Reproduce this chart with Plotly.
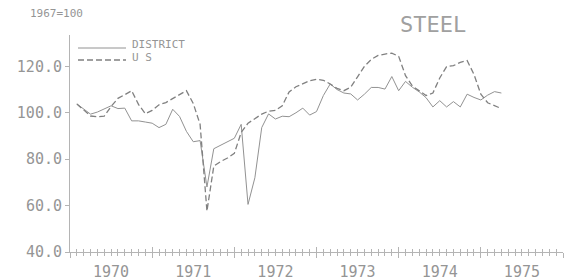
import plotly.graph_objects as go

# Monthly index values, Feb 1970 .. Apr 1975 (1967=100)
start_year = 1970
start_month = 2
district = [103.8, 101.5, 99.4, 100.3, 101.8, 103.0, 101.8, 102.0, 96.5, 96.5,
            96.0, 95.5, 93.6, 95.0, 101.5, 98.4, 92.0, 87.5, 88.0, 68.0,
            84.5, 86.0, 87.5, 89.0, 95.0, 60.5, 72.0, 93.6, 99.5, 97.3,
            98.5, 98.3, 100.0, 102.0, 99.0, 100.5, 107.4, 112.4, 110.0, 108.5,
            108.1, 105.5, 108.0, 110.9, 110.9, 110.2, 115.6, 109.5, 113.5, 111.0,
            109.0, 106.5, 102.5, 105.2, 102.5, 104.8, 102.5, 108.0, 106.6, 105.5,
            107.6, 109.1, 108.5]
us = [103.8, 101.0, 98.6, 98.3, 98.5, 102.7, 106.2, 107.8, 109.5, 103.6,
      99.6, 101.0, 103.4, 104.4, 106.0, 107.8, 109.5, 104.0, 95.0, 57.6,
      77.0, 79.0, 80.5, 82.5, 91.5, 95.5, 97.5, 99.4, 100.7, 101.0,
      103.0, 109.0, 111.2, 112.5, 113.8, 114.4, 114.0, 112.4, 110.5, 109.5,
      111.0, 115.5, 120.0, 123.0, 124.7, 125.3, 125.7, 124.3, 116.0, 111.5,
      109.6, 107.4, 108.5, 115.0, 119.9, 120.3, 121.7, 122.5, 116.5, 108.0,
      104.3, 103.0, 101.8]
year_labels = ["1970", "1971", "1972", "1973", "1974", "1975"]
year_bounds = [1970, 1971, 1972, 1973, 1974, 1975, 1976]
y_ticks = [40, 60, 80, 100, 120]

t = [start_year + (start_month - 1 + i) / 12 for i in range(len(district))]

GRAY = "#959595"
AX = "#b4b4b4"
FONT = "DejaVu Sans Mono"

W, H = 568, 280
L, R, T, B = 70, 5, 35, 28
PW, PH = W - L - R, H - T - B

def px(xp):
    return (xp - L) / PW

def py(yp):
    return (H - B - yp) / PH

fig = go.Figure()
fig.add_trace(go.Scatter(x=t, y=district, mode="lines",
                         line=dict(color="#929292", width=1), name="DISTRICT"))
fig.add_trace(go.Scatter(x=t, y=us, mode="lines",
                         line=dict(color="#808080", width=1.3, dash="6px,3px"), name="U S"))
# helper invisible traces so overlay axes are drawn
fig.add_trace(go.Scatter(x=[1970], y=[40], xaxis="x2", mode="markers",
                         marker=dict(opacity=0), hoverinfo="skip"))
fig.add_trace(go.Scatter(x=[1970], y=[40], xaxis="x3", mode="markers",
                         marker=dict(opacity=0), hoverinfo="skip"))

minor_out = dict(ticks="outside", tick0=1970, dtick=1/12, ticklen=3,
                 tickcolor=AX, tickwidth=1, showgrid=False)
minor_in = dict(ticks="inside", tick0=1970, dtick=1/12, ticklen=3,
                tickcolor=AX, tickwidth=1, showgrid=False)

fig.update_layout(
    width=W, height=H,
    margin=dict(l=L, r=R, t=T, b=B),
    paper_bgcolor="white", plot_bgcolor="white",
    showlegend=False,
    xaxis=dict(range=[1970, 1976], showline=True, linecolor=AX, linewidth=1,
               tickmode="array", tickvals=year_bounds, ticks="outside",
               ticklen=5, tickcolor=AX, showticklabels=False, automargin=False,
               showgrid=False, zeroline=False, minor=minor_out),
    xaxis2=dict(range=[1970, 1976], overlaying="x", anchor="y", side="bottom",
                tickmode="array", tickvals=year_bounds, ticks="inside",
                ticklen=5, tickcolor=AX, showticklabels=False, showline=False,
                automargin=False, showgrid=False, zeroline=False, minor=minor_in),
    xaxis3=dict(range=[1970, 1976], overlaying="x", anchor="y", side="bottom",
                tickmode="array", tickvals=[y + 0.5 for y in year_bounds[:-1]],
                ticktext=year_labels, ticks="", showline=False, automargin=False,
                showgrid=False, zeroline=False, ticklabelstandoff=9,
                tickfont=dict(family=FONT, size=15, color=GRAY)),
    yaxis=dict(range=[40, 133.5], showline=True, linecolor=AX, linewidth=1,
               tickmode="array", tickvals=y_ticks,
               ticktext=[f"{v:.1f}" for v in y_ticks], automargin=False,
               ticks="outside", ticklen=4, tickcolor=AX,
               showgrid=False, zeroline=False,
               tickfont=dict(family=FONT, size=15, color=GRAY)),
)

# Title and unit note
fig.add_annotation(text="STEEL", x=px(433), y=py(25), xref="paper", yref="paper",
                   xanchor="center", yanchor="middle", showarrow=False,
                   font=dict(family=FONT, size=22, color="#a0a0a0"))
fig.add_annotation(text="1967=100", x=px(56), y=py(13), xref="paper", yref="paper",
                   xanchor="center", yanchor="middle", showarrow=False,
                   font=dict(family=FONT, size=11, color=GRAY))

# Legend (drawn manually)
fig.add_shape(type="line", xref="paper", yref="paper",
              x0=px(78), x1=px(126), y0=py(48), y1=py(48),
              line=dict(color="#929292", width=1))
fig.add_shape(type="line", xref="paper", yref="paper",
              x0=px(78), x1=px(126), y0=py(60), y1=py(60),
              line=dict(color="#808080", width=1.3, dash="6px,3px"))
fig.add_annotation(text="DISTRICT", x=px(130), y=py(44), xref="paper", yref="paper",
                   xanchor="left", yanchor="middle", showarrow=False,
                   font=dict(family=FONT, size=11, color=GRAY))
fig.add_annotation(text="U S", x=px(130), y=py(57), xref="paper", yref="paper",
                   xanchor="left", yanchor="middle", showarrow=False,
                   font=dict(family=FONT, size=11, color=GRAY))

fig.write_html("out.html", config={"displayModeBar": False},
               post_script="document.body.style.margin='0';")
